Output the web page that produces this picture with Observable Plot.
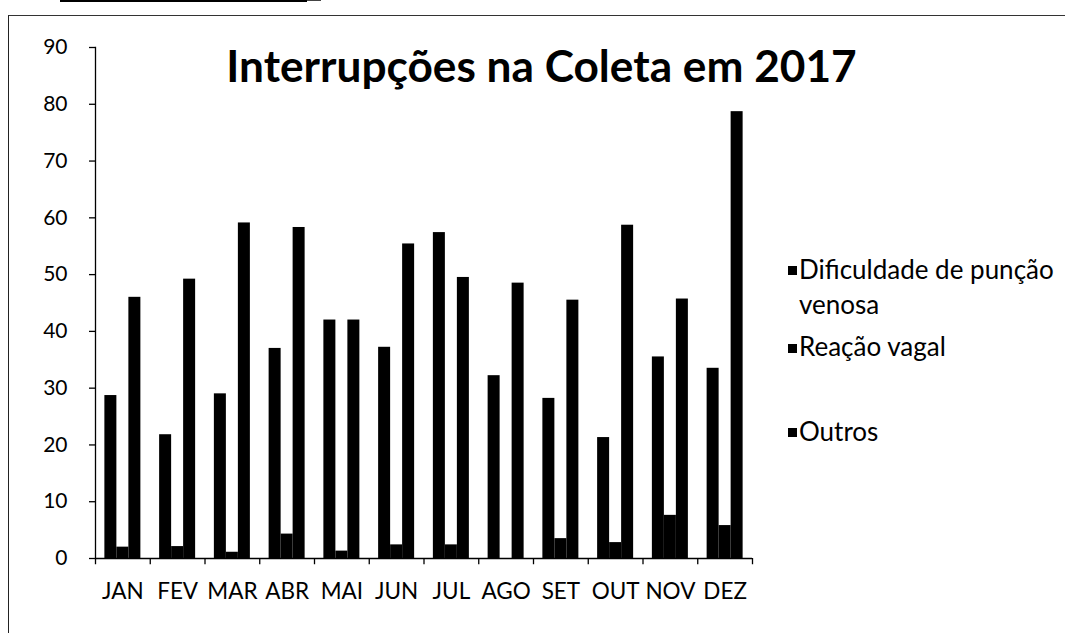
<!DOCTYPE html>
<html>
<head>
<meta charset="utf-8">
<script src="https://cdn.jsdelivr.net/npm/d3@7"></script>
<script src="https://cdn.jsdelivr.net/npm/@observablehq/plot@0.6"></script>
<style>
  html, body { margin: 0; padding: 0; background: #fff; }
  #wrap { position: relative; width: 1065px; height: 633px; overflow: hidden; font-family: Lato, "Open Sans", sans-serif; color: #000; }
  #wrap svg { position: absolute; left: 0; top: 0; }
  .border { position: absolute; left: 8px; top: 15px; width: 1100px; height: 700px; border-left: 1.5px solid #222; border-top: 1.5px solid #333; }
  .scrap { position: absolute; left: 60px; top: 0; width: 247px; height: 2px; background: #000; }
  .scrap2 { position: absolute; left: 307px; top: 0; width: 14px; height: 1px; background: #444; }
  .title { position: absolute; left: 191.5px; top: 43px; width: 700px; text-align: center; font-weight: 700; font-size: 44.2px; line-height: 44.2px; white-space: nowrap; }
  .lg-mark { position: absolute; left: 788px; width: 9px; height: 9px; background: #000; }
  .lg-text { position: absolute; left: 799px; font-size: 26px; line-height: 26px; white-space: nowrap; }
</style>
</head>
<body>
<div id="wrap">
  <div class="scrap"></div><div class="scrap2"></div>
  <div class="border"></div>
</div>
<script>
// ---- data ----
const months = ["JAN", "FEV", "MAR", "ABR", "MAI", "JUN", "JUL", "AGO", "SET", "OUT", "NOV", "DEZ"];
const series = ["Dificuldade de punção venosa", "Reação vagal", "Outros"];
const dificuldade = [28.7, 21.8, 29.0, 37.0, 42.0, 37.2, 57.4, 32.2, 28.2, 21.3, 35.5, 33.5];
const reacaoVagal = [2.0, 2.1, 1.1, 4.3, 1.3, 2.4, 2.4, 0, 3.5, 2.8, 7.6, 5.8];
const outros = [46.0, 49.2, 59.1, 58.3, 42.0, 55.4, 49.5, 48.5, 45.5, 58.7, 45.7, 78.7];
const yTicks = [0, 10, 20, 30, 40, 50, 60, 70, 80, 90];
const titleText = "Interrupções na Coleta em 2017";

// ---- layout ----
const W = 1065, H = 633;
const mL = 95, mR = 313, mT = 47, mB = 75;
const band = (W - mL - mR) / months.length;
const barW = 12;

const valuesBySeries = [dificuldade, reacaoVagal, outros];
const rows = valuesBySeries.map((vals) => months.map((m, i) => ({month: m, value: vals[i]})));

const barMarks = rows.map((data, s) => {
  const insetLeft = band / 2 - 1.5 * barW + s * barW;
  return Plot.barY(data, {
    x: "month", y: "value", fill: "#000",
    insetLeft, insetRight: band - insetLeft - barW
  });
});

const chart = Plot.plot({
  width: W, height: H,
  marginLeft: mL, marginRight: mR, marginTop: mT, marginBottom: mB,
  style: {fontFamily: "Lato, 'Open Sans', sans-serif", color: "#000", background: "transparent"},
  x: {domain: months, type: "band", paddingInner: 0, paddingOuter: 0, round: false, label: null},
  y: {domain: [0, 90], label: null},
  marks: [
    ...barMarks,
    Plot.frame({anchor: "left", stroke: "#000", strokeWidth: 1.3}),
    Plot.ruleY([0], {stroke: "#000", strokeWidth: 1.3}),
    Plot.ruleX(months, {x: (d) => d, y1: 0, y2: -1.1, dx: -band / 2, stroke: "#000", strokeWidth: 1.3}),
    Plot.ruleX(months.slice(-1), {x: (d) => d, y1: 0, y2: -1.1, dx: band / 2, stroke: "#000", strokeWidth: 1.3}),
    Plot.axisY({ticks: yTicks, tickSize: 6, tickPadding: 22, fontSize: 21, tickFormat: (d) => String(d), stroke: "#000", strokeWidth: 1.3}),
    Plot.axisX({tickSize: 0, tickPadding: 25, fontSize: 22.5})
  ]
});

const wrap = document.getElementById("wrap");
wrap.appendChild(chart);

// title
const t = document.createElement("div");
t.className = "title";
t.textContent = titleText;
wrap.appendChild(t);

// legend
const fs = 26;
const words0 = series[0].split(" ");
const legendLines = [
  {lines: [words0.slice(0, 3).join(" "), words0.slice(3).join(" ")], baselines: [279, 314], mark: 266},
  {lines: [series[1]], baselines: [356], mark: 344},
  {lines: [series[2]], baselines: [441], mark: 428}
];
legendLines.forEach((item) => {
  const m = document.createElement("div");
  m.className = "lg-mark";
  m.style.top = item.mark + "px";
  wrap.appendChild(m);
  item.lines.forEach((txt, j) => {
    const d = document.createElement("div");
    d.className = "lg-text";
    d.textContent = txt;
    d.style.top = (item.baselines[j] - 0.887 * fs) + "px";
    wrap.appendChild(d);
  });
});
</script>
</body>
</html>
